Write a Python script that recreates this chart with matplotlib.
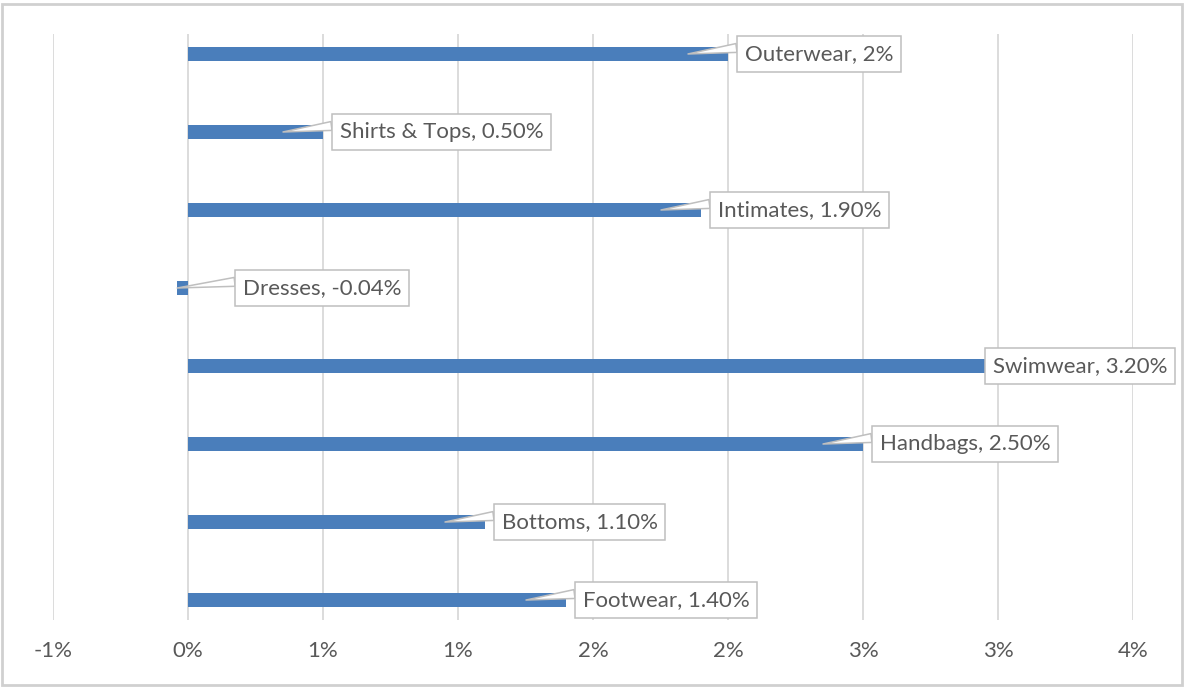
"""Horizontal bar chart of category growth with callout labels."""
import matplotlib
matplotlib.use("Agg")
import matplotlib.pyplot as plt
from matplotlib.patches import Rectangle
from matplotlib.ticker import FuncFormatter
from matplotlib.transforms import offset_copy

# Data (bottom to top, as drawn)
categories = ["Footwear", "Bottoms", "Handbags", "Swimwear",
              "Dresses", "Intimates", "Shirts & Tops", "Outerwear"]
values = [1.40, 1.10, 2.50, 3.20, -0.04, 1.90, 0.50, 2.00]
value_labels = ["1.40%", "1.10%", "2.50%", "3.20%",
                "-0.04%", "1.90%", "0.50%", "2%"]
x_ticks = [-0.5, 0.0, 0.5, 1.0, 1.5, 2.0, 2.5, 3.0, 3.5]

# Callout placement in pixels: (box left offset from bar end, tip offset from bar end)
box_dx = [9, 9, 9, -67, 58, 9, 9, 9]
tip_dx = [-40, -40, -40, None, 0, -40, -40, -40]

BAR = "#4A7EBB"
TEXT = "#595959"
GRID = "#D9D9D9"
FS = 16
PAD = 0.34

plt.rcParams["font.family"] = ["Lato", "DejaVu Sans"]

fig = plt.figure(figsize=(11.88, 6.88), dpi=100)
W, H = 1188, 688
ax = fig.add_axes([53 / W, 1 - 620 / H, (1133 - 53) / W, (620 - 34) / H])

ypos = list(range(len(categories)))
ax.barh(ypos, values, height=0.18, color=BAR, zorder=2)


def excel_pct(v, pos):
    # Excel rounds half away from zero with 0 decimals
    r = int(abs(v) + 0.5 + 1e-9)
    return f"{'-' if v < 0 and r else ''}{r}%"


ax.set_xlim(-0.5, 3.5)
ax.set_ylim(-0.256, 7.256)
ax.set_xticks(x_ticks)
ax.xaxis.set_major_formatter(FuncFormatter(excel_pct))
ax.set_yticks([])
ax.tick_params(axis="x", length=0, pad=15, labelsize=16, labelcolor=TEXT)
ax.grid(axis="x", color=GRID, linewidth=1.3, zorder=0)
for s in ax.spines.values():
    s.set_visible(False)

pad_px = PAD * FS * fig.dpi / 72
for y, v, cat, lab, bdx, tdx in zip(ypos, values, categories, value_labels,
                                    box_dx, tip_dx):
    text = f"{cat}, {lab}"
    bbox = dict(boxstyle=f"square,pad={PAD}", fc="white", ec="#BFBFBF", lw=1.1)
    if tdx is None:
        ax.annotate(text, xy=(v, y), xytext=(bdx + pad_px, 0),
                    textcoords="offset pixels",
                    ha="left", va="center", fontsize=FS, color=TEXT,
                    bbox=bbox, zorder=5, annotation_clip=False)
    else:
        ax.annotate(text, xy=(v, y), xytext=(bdx + pad_px - tdx, 0),
                    xycoords=offset_copy(ax.transData, fig=fig, x=tdx, y=0,
                                         units="dots"),
                    textcoords="offset pixels",
                    ha="left", va="center", fontsize=FS, color=TEXT,
                    bbox=bbox, zorder=5, annotation_clip=False,
                    arrowprops=dict(arrowstyle="wedge,tail_width=0.4,shrink_factor=0.5",
                                    fc="white", ec="#BFBFBF", lw=1.1,
                                    relpos=(0, 0.85), shrinkA=0, shrinkB=0))

# chart area border
fig.add_artist(Rectangle((2 / W, 3 / H), 1180 / W, 681 / H,
                         transform=fig.transFigure, fill=False,
                         ec="#D0D0D0", lw=2))

fig.savefig("out.png", dpi=100)
